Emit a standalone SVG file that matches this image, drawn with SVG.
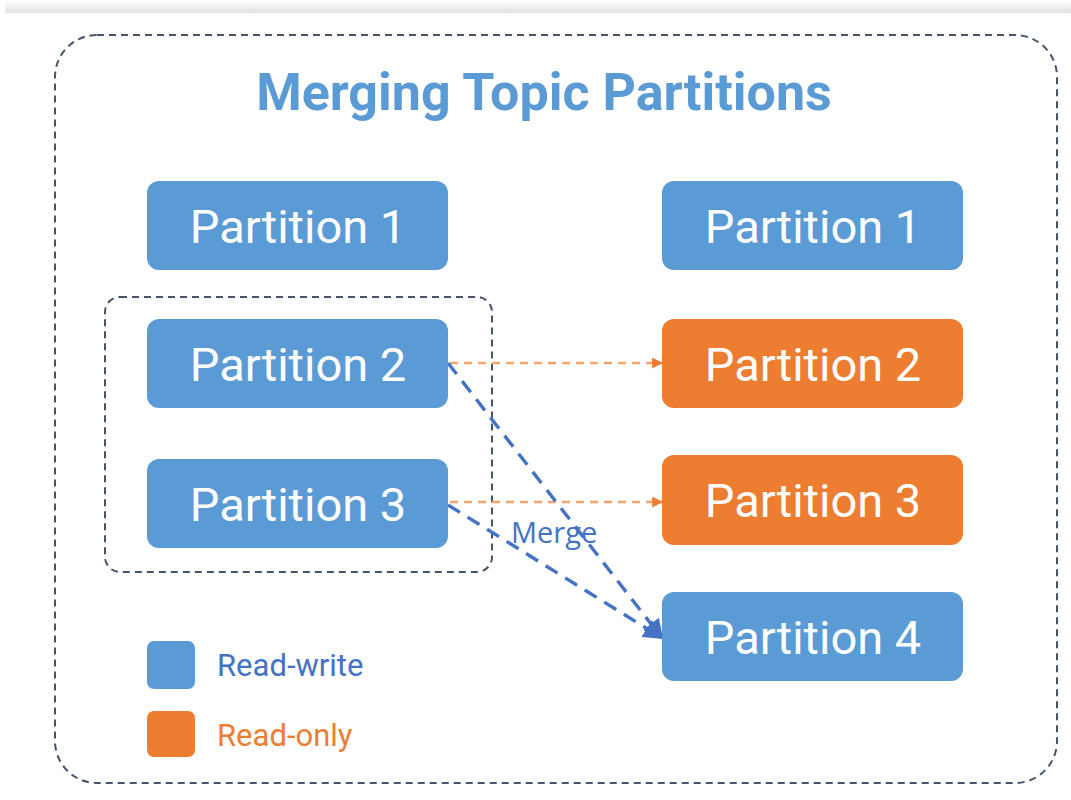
<svg xmlns="http://www.w3.org/2000/svg" width="1071" height="800" viewBox="0 0 1071 800">
<defs>
<linearGradient id="topbar" x1="0" y1="0" x2="0" y2="1">
<stop offset="0" stop-color="#ffffff"/>
<stop offset="1" stop-color="#e2e2e2"/>
</linearGradient>
<marker id="ah-orange" viewBox="0 0 10 10" refX="9" refY="5" markerWidth="11" markerHeight="11" markerUnits="userSpaceOnUse" orient="auto">
<path d="M0,0 L10,5 L0,10 z" fill="#ed7d31"/>
</marker>
<marker id="ah-blue" viewBox="0 0 10 10" refX="9" refY="5" markerWidth="20" markerHeight="20" markerUnits="userSpaceOnUse" orient="auto">
<path d="M0,0 L10,5 L0,10 z" fill="#4472c4"/>
</marker>
</defs>
<style>
.node rect { rx: 12px; ry: 12px; }
.blue { fill: #5b9bd5; }
.orange { fill: #ed7d31; }
.label { font-family: Roboto, "Liberation Sans", sans-serif; font-size: 47px; fill: #ffffff; text-anchor: middle; }
.frame { fill: none; stroke: #44546a; stroke-width: 2; stroke-dasharray: 7 5; }
.orange-edge { fill: none; stroke: #f4a46c; stroke-width: 2.5; stroke-dasharray: 8 6; }
.blue-edge { fill: none; stroke: #4472c4; stroke-width: 3.4; stroke-dasharray: 14 9; }
.legend { font-family: Roboto, "Liberation Sans", sans-serif; font-size: 31px; }
</style>
<rect x="0" y="0" width="1071" height="800" fill="#ffffff"/>
<rect x="5" y="0" width="1066" height="13" fill="url(#topbar)"/>
<rect class="frame" x="55" y="35" width="1002" height="748" rx="42" ry="42"/>
<text x="544" y="110" font-family="Roboto, 'Liberation Sans', sans-serif" font-size="52" font-weight="bold" fill="#5b9bd5" text-anchor="middle">Merging Topic Partitions</text>
<rect class="frame" x="105" y="297" width="387" height="275" rx="15" ry="15"/>
<g id="connectors">
<line class="orange-edge" x1="450" y1="363" x2="662" y2="363" marker-end="url(#ah-orange)"/>
<line class="orange-edge" x1="450" y1="502" x2="662" y2="502" marker-end="url(#ah-orange)"/>
<line class="blue-edge" x1="448" y1="363" x2="662" y2="638" marker-end="url(#ah-blue)"/>
<line class="blue-edge" x1="448" y1="505" x2="662" y2="638" marker-end="url(#ah-blue)"/>
<text x="511" y="543" font-family="'Open Sans', 'Noto Sans', sans-serif" font-size="29" fill="#4472c4">Merge</text>
</g>
<g id="left-p1" class="node"><rect class="blue" x="147" y="181" width="301" height="89"/><text class="label" x="298" y="243">Partition 1</text></g>
<g id="left-p2" class="node"><rect class="blue" x="147" y="319" width="301" height="89"/><text class="label" x="298" y="381">Partition 2</text></g>
<g id="left-p3" class="node"><rect class="blue" x="147" y="459" width="301" height="89"/><text class="label" x="298" y="521">Partition 3</text></g>
<g id="right-p1" class="node"><rect class="blue" x="662" y="181" width="301" height="89"/><text class="label" x="813" y="243">Partition 1</text></g>
<g id="right-p2" class="node"><rect class="orange" x="662" y="319" width="301" height="89"/><text class="label" x="813" y="381">Partition 2</text></g>
<g id="right-p3" class="node"><rect class="orange" x="662" y="455" width="301" height="90"/><text class="label" x="813" y="517">Partition 3</text></g>
<g id="right-p4" class="node"><rect class="blue" x="662" y="592" width="301" height="89"/><text class="label" x="813" y="654">Partition 4</text></g>
<g id="legend-rw"><rect class="blue" x="147" y="641" width="48" height="48" rx="7" ry="7"/><text class="legend" x="217" y="676" fill="#4472c4">Read-write</text></g>
<g id="legend-ro"><rect class="orange" x="147" y="711" width="48" height="46" rx="7" ry="7"/><text class="legend" x="217" y="746" fill="#ed7d31">Read-only</text></g>
</svg>
